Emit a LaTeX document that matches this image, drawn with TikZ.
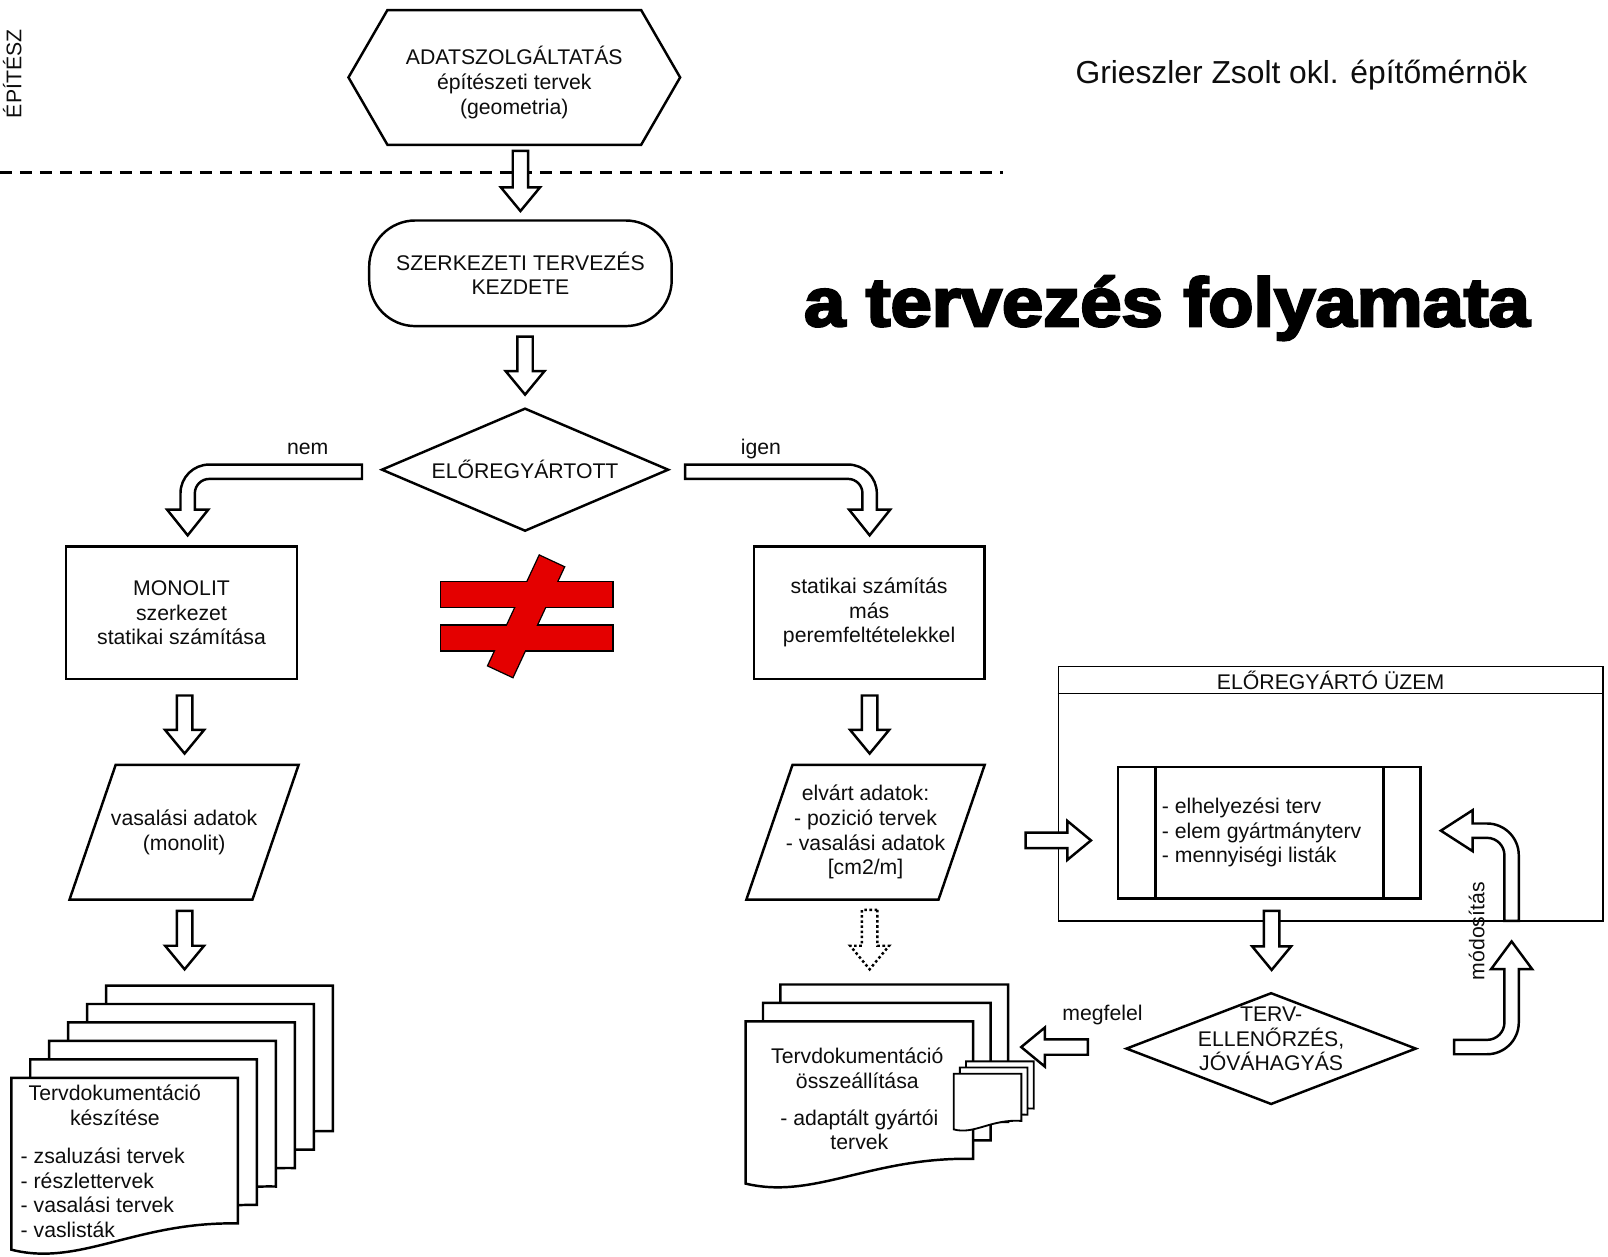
\documentclass[tikz,border=0pt]{standalone}
\usepackage{fontspec}
\setmainfont{Liberation Sans}
\newfontfamily\titlefont{Liberation Sans}[BoldFeatures={FakeBold=3.5}]
\usetikzlibrary{positioning,shapes.geometric,calc}
\definecolor{neqred}{RGB}{228,0,0}

% hollow block arrow from tail #2 to tip #3
\newcommand\blockarr[3][]{%
  \draw[blockarrow,#1] let \p1=(#2), \p2=(#3), \p3=($(\p2)!23pt!(\p1)$) in
    ($(\p1)!7.5pt!90:(\p2)$) -- ($(\p3)!7.5pt!-90:(\p1)$) -- ($(\p3)!19pt!-90:(\p1)$)
    -- (\p2) -- ($(\p3)!19pt!90:(\p1)$) -- ($(\p3)!7.5pt!90:(\p1)$)
    -- ($(\p1)!7.5pt!-90:(\p2)$) -- cycle;}

\tikzset{
  pics/docpage/.style args={#1/#2}{code={
    \draw[docline] (0,0) -- (#1,0) -- (#1,#2)
      .. controls (0.55*#1,#2-2) and (0.3*#1,1.3*#2) .. (0,1.18*#2) -- cycle;}}
}

\begin{document}
\begin{tikzpicture}[x=1pt,y=-1pt,
  font=\fontsize{20.7pt}{24pt}\selectfont,
  every node/.style={text=black!95},
  heavy/.style={line width=2.4pt},
  box/.style={draw,heavy,fill=white,inner sep=0pt,align=center},
  stepbox/.style={box,minimum width=225pt,minimum height=129pt},
  startbox/.style={box,rounded corners=45pt,minimum width=295pt,minimum height=103pt},
  decbox/.style={box,diamond,aspect=2.3},
  bare/.style={inner sep=0pt,align=center},
  blockarrow/.style={draw,heavy,fill=white,line join=miter},
  docline/.style={draw,heavy,fill=white},
  smalldoc/.style={docline/.style={draw,line width=1.8pt,fill=white}},
  plantline/.style={line width=1.3pt},
  neqline/.style={draw=black,line width=2.6pt},
  neqfill/.style={fill=neqred},
  ]

  \fill[white] (0,0) rectangle (1568,1225);
  \useasboundingbox (0,0) rectangle (1568,1225);

  % architect part
  \node[rotate=90] (arch) at (12,72) {ÉPÍTÉSZ};
  \draw[heavy,dash pattern=on 12pt off 7.5pt] (0,168) -- (978,168);

  \node[bare,minimum width=323pt,minimum height=131pt] (adat) at (501.5,75.5) {};
  \draw[heavy] (adat.west) -- ([xshift=38pt]adat.north west) -- ([xshift=-38pt]adat.north east)
    -- (adat.east) -- ([xshift=-38pt]adat.south east) -- ([xshift=38pt]adat.south west) -- cycle;
  \node[bare] (adattxt) at ([yshift=-5pt]adat.center) {ADATSZOLGÁLTATÁS\\építészeti tervek\\(geometria)};

  \node[font=\fontsize{31pt}{36pt}\selectfont] (author) at (1269,73) {Grieszler Zsolt okl. építőmérnök};
  \node[anchor=base,font=\titlefont\bfseries\fontsize{67pt}{70pt}\selectfont,text=black] (title) at (1138,318) {\scalebox{1.08}[1]{a tervezés folyamata}};

  \node[startbox] (start) at (507.5,266.5) {SZERKEZETI TERVEZÉS\\KEZDETE};
  \node[decbox,minimum width=280pt,minimum height=120pt] (elore) at (512,458) {ELŐREGYÁRTOTT};

  \node (nem) at (300,438) {nem};
  \node (igen) at (742,438) {igen};

  \node[stepbox] (monolit) at (177,597.5) {MONOLIT\\szerkezet\\statikai számítása};
  \node[stepbox] (stat) at (847.5,597.5) {statikai számítás\\más\\peremfeltételekkel};

  \node[bare,minimum width=223pt,minimum height=131pt] (vas) at (179.5,811.5) {vasalási adatok\\(monolit)};
  \draw[heavy] ([xshift=45pt]vas.north west) -- (vas.north east) -- ([xshift=-45pt]vas.south east) -- (vas.south west) -- cycle;

  \node[bare,minimum width=232pt,minimum height=131pt] (elv) at (844,811.5) {elvárt adatok:\\- pozició tervek\\- vasalási adatok\\{[cm2/m]}};
  \draw[heavy] ([xshift=45pt]elv.north west) -- (elv.north east) -- ([xshift=-45pt]elv.south east) -- (elv.south west) -- cycle;

  % not equal sign
  \foreach \st in {neqline,neqfill}{
    \path[\st] (430,568) rectangle (597,592);
    \path[\st] (430,610) rectangle (597,634);
    \path[\st,rotate around={65:(513,601)}] (454,588) rectangle (572,614);
  }

  % precast plant
  \node[draw,plantline,minimum width=531pt,minimum height=248pt] (plant) at (1297.5,774) {};
  \draw[plantline] ([yshift=-27pt]plant.north west) -- ([yshift=-27pt]plant.north east);
  \node (planttitle) at ([yshift=-14pt]plant.north) {ELŐREGYÁRTÓ ÜZEM};

  \node[box,minimum width=295pt,minimum height=128pt] (proc) at (1237.5,812) {};
  \draw[heavy] ([xshift=38pt]proc.north west) -- ([xshift=38pt]proc.south west)
    ([xshift=-37pt]proc.north east) -- ([xshift=-37pt]proc.south east);
  \node[bare,anchor=west,align=left] (proctxt) at ([xshift=44pt]proc.west) {- elhelyezési terv\\- elem gyártmányterv\\- mennyiségi listák};

  \node[box,diamond,minimum width=283pt,minimum height=109pt] (check) at (1239.5,1022.5) {};
  \node[bare] (checktxt) at ([yshift=9.5pt]check.center) {TERV-\\ELLENŐRZÉS,\\JÓVÁHAGYÁS};

  \node (megfelel) at (1075,990) {megfelel};
  \node[rotate=90] (modosit) at (1440,908) {módosítás};

  % document stacks
  \foreach \k in {5,4,...,0}
    \pic at ({11+18.5*\k},{1051-18*\k}) {docpage=221/142};
  \foreach \k in {2,1,0}
    \pic at ({727+17*\k},{996-18*\k}) {docpage=222/134};
  \foreach \k in {2,1,0}
    \pic[smalldoc] at ({930+6*\k},{1047-6*\k}) {docpage=66/46};

  \node[bare] (docAhead) at (112,1078) {Tervdokumentáció\\készítése};
  \node[bare,anchor=west,align=left] (docAlist) at (20,1163) {- zsaluzási tervek\\- részlettervek\\- vasalási tervek\\- vaslisták};
  \node[bare] (docBhead) at (836,1041.5) {Tervdokumentáció\\összeállítása};
  \node[bare] (docBsub) at (838,1101.5) {- adaptált gyártói\\tervek};

  % straight arrows
  \blockarr{[xshift=6pt,yshift=-6pt]adat.south}{[yshift=8pt]start.north}
  \blockarr{[xshift=4.5pt,yshift=-9pt]start.south}{[yshift=12pt]elore.north}
  \blockarr{[xshift=3pt,yshift=-15pt]monolit.south}{[xshift=0.5pt,yshift=11pt]vas.north}
  \blockarr{[xshift=0.5pt,yshift=-11pt]vas.south}{[xshift=0.5pt,yshift=-68pt]vas.south}
  \blockarr{[xshift=0.5pt,yshift=-15pt]stat.south}{[xshift=4pt,yshift=11pt]elv.north}
  \blockarr[dash pattern=on 2.5pt off 2.5pt]{[xshift=4pt,yshift=-10pt]elv.south}{[xshift=4pt,yshift=-68pt]elv.south}
  \blockarr{[xshift=40pt,yshift=-8pt]elv.east}{[xshift=-25pt,yshift=-7.5pt]proc.west}
  \blockarr{[xshift=2.5pt,yshift=-11pt]proc.south}{[xshift=0.5pt,yshift=21pt]check.north}
  \blockarr{[xshift=-36pt,yshift=1.5pt]check.west}{[xshift=-101pt,yshift=1.5pt]check.west}

  % bent arrows
  \draw[blockarrow] (353,453) -- (204,453) .. controls (188.5,453) and (176,465.5) .. (176,481)
    -- (176,497) -- (163,497) -- (183,522) -- (203,497) -- (190,497) -- (190,481)
    .. controls (190,473.3) and (196.3,467) .. (204,467) -- (353,467) -- cycle;
  \draw[blockarrow] (668,453) -- (827,453) .. controls (842.5,453) and (855,465.5) .. (855,481)
    -- (855,497) -- (868,497) -- (848,522) -- (828,497) -- (841,497) -- (841,481)
    .. controls (841,473.3) and (834.7,467) .. (827,467) -- (668,467) -- cycle;
  \draw[blockarrow] (1418,1014) -- (1450,1014) .. controls (1459.4,1014) and (1467,1006.4) .. (1467,997)
    -- (1467,945) -- (1454,945) -- (1474,918) -- (1494,945) -- (1481,945) -- (1481,997)
    .. controls (1481,1014.1) and (1467.1,1028) .. (1450,1028) -- (1418,1028) -- cycle;
  \draw[blockarrow] (1467,898) -- (1467,834) .. controls (1467,824.6) and (1459.4,817) .. (1450,817)
    -- (1436,817) -- (1436,830) -- (1405,810) -- (1436,790) -- (1436,803) -- (1450,803)
    .. controls (1467.1,803) and (1481,816.9) .. (1481,834) -- (1481,898) -- cycle;

\end{tikzpicture}
\end{document}
